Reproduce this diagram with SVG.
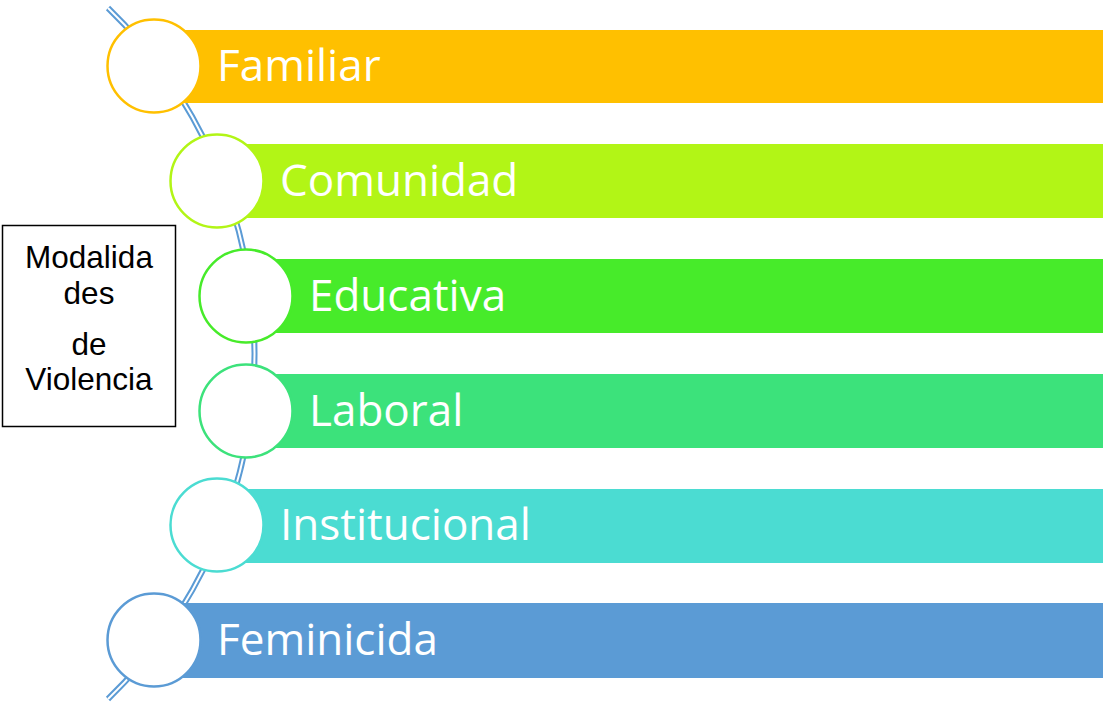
<svg xmlns="http://www.w3.org/2000/svg" width="1105" height="708" viewBox="0 0 1105 708">
<style>
.lbl{font-family:"Open Sans","Noto Sans",sans-serif;font-size:44px;fill:#ffffff}
.circ{fill:#ffffff;stroke-width:2.5}
.box-t{font-family:"Liberation Sans",Arial,sans-serif;font-size:31.5px;fill:#000000;text-anchor:middle}
</style>
<rect width="1105" height="708" fill="#ffffff"/>
<g id="connectors">
<path d="M108,8 A480.6,480.6 0 0 1 108,699" fill="none" stroke="#5B9BD5" stroke-width="6"/>
<path d="M108,8 A480.6,480.6 0 0 1 108,699" fill="none" stroke="#ffffff" stroke-width="2"/>
</g>
<g id="node-familiar">
<rect x="154" y="30" width="949" height="73" fill="#FFC000"/>
<circle class="circ" cx="154" cy="66" r="46.5" stroke="#FFC000"/>
<text class="lbl" x="217" y="81">Familiar</text>
</g>
<g id="node-comunidad">
<rect x="217" y="144" width="886" height="74" fill="#B2F516"/>
<circle class="circ" cx="217" cy="181" r="46.5" stroke="#B2F516"/>
<text class="lbl" x="280" y="196">Comunidad</text>
</g>
<g id="node-educativa">
<rect x="246" y="259" width="857" height="74" fill="#47EB2A"/>
<circle class="circ" cx="246" cy="296" r="46.5" stroke="#47EB2A"/>
<text class="lbl" x="309" y="311">Educativa</text>
</g>
<g id="node-laboral">
<rect x="246" y="374" width="857" height="74" fill="#3CE27B"/>
<circle class="circ" cx="246" cy="411" r="46.5" stroke="#3CE27B"/>
<text class="lbl" x="309" y="426">Laboral</text>
</g>
<g id="node-institucional">
<rect x="217" y="489" width="886" height="74" fill="#4BDCD2"/>
<circle class="circ" cx="217" cy="525" r="46.5" stroke="#4BDCD2"/>
<text class="lbl" x="280" y="540">Institucional</text>
</g>
<g id="node-feminicida">
<rect x="154" y="603" width="949" height="75" fill="#5B9BD5"/>
<circle class="circ" cx="154" cy="640" r="46.5" stroke="#5B9BD5"/>
<text class="lbl" x="217" y="655">Feminicida</text>
</g>
<g id="node-modalidades">
<rect x="2.5" y="225.5" width="173" height="201" fill="#ffffff" stroke="#000000" stroke-width="1.5"/>
<text class="box-t" x="89" y="268">Modalida</text>
<text class="box-t" x="89" y="304">des</text>
<text class="box-t" x="89" y="355">de</text>
<text class="box-t" x="89" y="390">Violencia</text>
</g>
</svg>
